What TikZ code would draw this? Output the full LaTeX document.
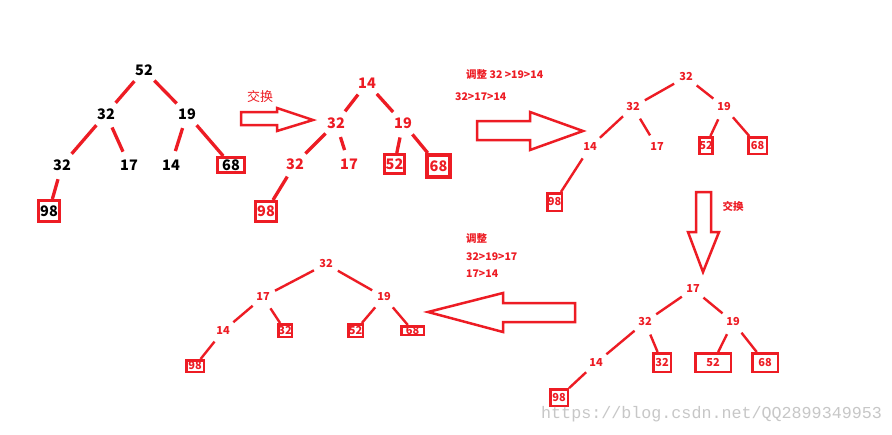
\documentclass[tikz,border=0pt]{standalone}
\usepackage{fontspec}
\setmainfont{Noto Sans CJK SC}
\newfontfamily\wmfont{Liberation Mono}
\definecolor{pr}{RGB}{237,28,36}
\begin{document}
\begin{tikzpicture}[x=1pt,y=-1pt,
  bigt/.style={circle, inner sep=3pt, font=\fontsize{14.5}{15}\selectfont\bfseries},
  smt/.style={circle, inner sep=4pt, text=pr, font=\fontsize{11}{12}\selectfont\bfseries},
  bxb/.style={draw=pr, rectangle, inner sep=0pt, line width=3pt, font=\fontsize{14.5}{15}\selectfont\bfseries},
  bxs/.style={draw=pr, rectangle, inner sep=0pt, line width=2.5pt, text=pr, font=\fontsize{11}{12}\selectfont\bfseries},
  eb/.style={draw=pr, line width=3.3pt},
  es/.style={draw=pr, line width=2.4pt},
  harrow/.style={draw=pr, line width=2.5pt, fill=white, line join=miter},
  lbl/.style={text=pr, inner sep=0pt, font=\fontsize{10.5}{12}\selectfont\bfseries}
]
\useasboundingbox (0,0) rectangle (892,434);
\fill[white] (0,0) rectangle (892,434);

% ---------- tree 1 ----------
\node[bigt] (a1) at (144,70) {52};
\node[bigt] (a2) at (106,114) {32};
\node[bigt] (a3) at (187,114) {19};
\node[bigt] (a4) at (62,165) {32};
\node[bigt] (a5) at (129,165) {17};
\node[bigt] (a6) at (171,165) {14};
\node[bxb, minimum width=27pt, minimum height=15pt] (a7) at (231,165) {68};
\node[bxb, minimum width=21pt, minimum height=21pt] (a8) at (49,211) {98};
\foreach \p/\q in {a1/a2,a1/a3,a2/a4,a2/a5,a3/a6,a3/a7,a4/a8} \draw[eb] (\p) -- (\q);

% arrow 1
\draw[harrow] (241,112) -- (277,112) -- (277,108) -- (313,120) -- (277,131) -- (277,125) -- (241,125) -- cycle;
\node[text=pr, inner sep=0pt, font=\fontsize{13}{14}\selectfont] (l1) at (260,97) {交换};

% ---------- tree 2 ----------
\node[bigt, text=pr] (b1) at (367,83) {14};
\node[bigt, text=pr] (b2) at (336,123) {32};
\node[bigt, text=pr] (b3) at (403,123) {19};
\node[bigt, text=pr] (b4) at (295,164) {32};
\node[bigt, text=pr] (b5) at (349,164) {17};
\node[bxb, text=pr, minimum width=20pt, minimum height=19pt] (b6) at (394.5,164) {52};
\node[bxb, text=pr, line width=4pt, minimum width=23pt, minimum height=22pt] (b7) at (438.5,166) {68};
\node[bxb, text=pr, minimum width=21pt, minimum height=20pt] (b8) at (266,211.5) {98};
\foreach \p/\q in {b1/b2,b1/b3,b2/b4,b2/b5,b3/b6,b3/b7,b4/b8} \draw[eb] (\p) -- (\q);

% labels + arrow 2
\node[lbl, anchor=west] (l2) at (466,75) {调整 32 >19>14};
\node[lbl, anchor=west] (l3) at (455,97) {32>17>14};
\draw[harrow] (477,121) -- (530,121) -- (530,112) -- (583,131) -- (530,150) -- (530,140) -- (477,140) -- cycle;

% ---------- tree 3 ----------
\node[smt] (c1) at (686,77) {32};
\node[smt] (c2) at (633,107) {32};
\node[smt] (c3) at (724,107) {19};
\node[smt] (c4) at (590,147) {14};
\node[smt] (c5) at (657,147) {17};
\node[bxs, minimum width=11.5pt, minimum height=16.5pt] (c6) at (706,145.5) {52};
\node[bxs, minimum width=18.5pt, minimum height=16.5pt] (c7) at (757.5,145.5) {68};
\node[bxs, minimum width=14.5pt, minimum height=17.5pt] (c8) at (554.5,202) {98};
\foreach \p/\q in {c1/c2,c1/c3,c2/c4,c2/c5,c3/c6,c3/c7,c4/c8} \draw[es] (\p) -- (\q);

% down arrow
\draw[harrow] (696,192) -- (711,192) -- (711,232) -- (719,232) -- (703,272) -- (688,232) -- (696,232) -- cycle;
\node[lbl] (l4) at (733,206) {交换};

% ---------- tree 4 ----------
\node[smt] (d1) at (693,289) {17};
\node[smt] (d2) at (645,322) {32};
\node[smt] (d3) at (733,322) {19};
\node[smt] (d4) at (596,363) {14};
\node[bxs, minimum width=17.5pt, minimum height=18.5pt] (d5) at (662,362.5) {32};
\node[bxs, minimum width=35.5pt, minimum height=18.5pt] (d6) at (713,362.5) {52};
\node[bxs, minimum width=25.5pt, minimum height=18.5pt] (d7) at (765,362.5) {68};
\node[bxs, minimum width=17.5pt, minimum height=16.5pt] (d8) at (559,397.5) {98};
\foreach \p/\q in {d1/d2,d1/d3,d2/d4,d2/d5,d3/d6,d3/d7,d4/d8} \draw[es] (\p) -- (\q);

% left arrow + labels
\draw[harrow] (575,303) -- (503,303) -- (503,293) -- (428,312) -- (503,332) -- (503,322) -- (575,322) -- cycle;
\node[lbl, anchor=west] (l5) at (466,239) {调整};
\node[lbl, anchor=west] (l6) at (466,257) {32>19>17};
\node[lbl, anchor=west] (l7) at (466,274) {17>14};

% ---------- tree 5 ----------
\node[smt] (f1) at (326,264) {32};
\node[smt] (f2) at (263,297) {17};
\node[smt] (f3) at (384,297) {19};
\node[smt] (f4) at (223,331) {14};
\node[bxs, minimum width=13.5pt, minimum height=12.5pt] (f5) at (285,330.5) {32};
\node[bxs, minimum width=14.5pt, minimum height=12.5pt] (f6) at (355.5,330.5) {52};
\node[bxs, minimum width=22.5pt, minimum height=8.5pt] (f7) at (412.5,330.5) {68};
\node[bxs, minimum width=17.5pt, minimum height=11.5pt] (f8) at (195,366) {98};
\foreach \p/\q in {f1/f2,f1/f3,f2/f4,f2/f5,f3/f6,f3/f7,f4/f8} \draw[es] (\p) -- (\q);

% watermark
\node[anchor=west, inner sep=0pt, text=black!22, font=\wmfont\fontsize{16.7}{17}\selectfont] (wm) at (541,414) {https://blog.csdn.net/QQ2899349953};
\end{tikzpicture}
\end{document}
